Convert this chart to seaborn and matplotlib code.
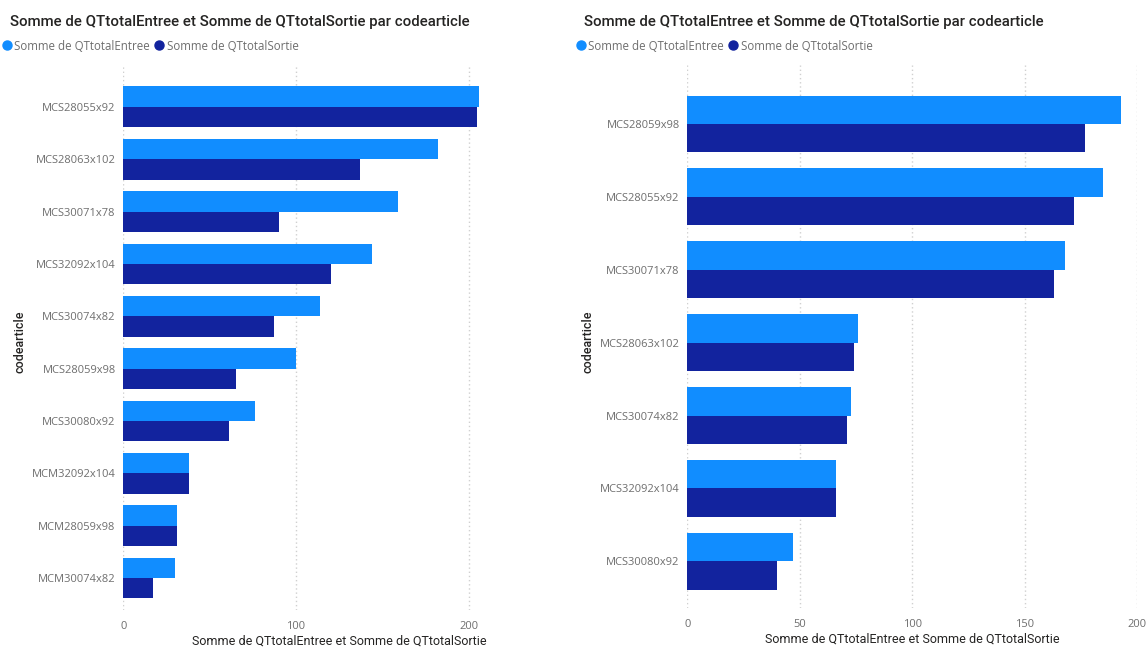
import pandas as pd
import seaborn as sns
import matplotlib.pyplot as plt
from matplotlib.lines import Line2D

# left visual
codes_left = ["MCS28055x92", "MCS28063x102", "MCS30071x78", "MCS32092x104",
              "MCS30074x82", "MCS28059x98", "MCS30080x92", "MCM32092x104",
              "MCM28059x98", "MCM30074x82"]
entree_left = [206, 182, 159, 144, 114, 100, 76, 38, 31, 30]
sortie_left = [205, 137, 90, 120, 87, 65, 61, 38, 31, 17]

# right visual
codes_right = ["MCS28059x98", "MCS28055x92", "MCS30071x78", "MCS28063x102",
               "MCS30074x82", "MCS32092x104", "MCS30080x92"]
entree_right = [193, 185, 168, 76, 73, 66, 47]
sortie_right = [177, 172, 163, 74, 71, 66, 40]

left_ticks = [0, 100, 200]
right_ticks = [0, 50, 100, 150, 200]

series = ["Somme de QTtotalEntree", "Somme de QTtotalSortie"]
colors = ["#118DFF", "#12239E"]
title = "Somme de QTtotalEntree et Somme de QTtotalSortie par codearticle"
xlab = "Somme de QTtotalEntree et Somme de QTtotalSortie"

sns.set_style("white")
plt.rcParams['font.family'] = ['Open Sans', 'DejaVu Sans']

GRAY = "#6E6E6E"
DARK = "#252423"


def make_df(codes, entree, sortie):
    df = pd.DataFrame({"codearticle": codes, series[0]: entree, series[1]: sortie})
    return df.melt(id_vars="codearticle", var_name="serie", value_name="qte")


def draw(ax, codes, entree, sortie, ticks, xmax, pad_top, pad_bot):
    df = make_df(codes, entree, sortie)
    sns.barplot(data=df, y="codearticle", x="qte", hue="serie", order=codes,
                hue_order=series, palette=colors, orient="h", width=0.78,
                saturation=1, linewidth=0, ax=ax, legend=False)
    ax.set_xlim(0, xmax)
    ax.set_ylim(len(codes) - 0.5 + pad_bot, -0.5 - pad_top)
    ax.set_xticks(ticks)
    ax.set_xticklabels([str(t) for t in ticks])
    ax.xaxis.grid(True, linestyle=(0, (1, 2)), color="#D0D0D0", linewidth=1)
    ax.yaxis.grid(False)
    ax.set_axisbelow(True)
    for s in ax.spines.values():
        s.set_visible(False)
    ax.tick_params(axis="both", length=0, labelsize=8, labelcolor=GRAY)
    ax.tick_params(axis="x", pad=8)
    ax.tick_params(axis="y", pad=5.5)
    ax.set_xlabel(xlab, fontsize=9, color=DARK, family="Roboto", labelpad=2)
    ax.set_ylabel("")


fig = plt.figure(figsize=(11.48, 6.5), dpi=100)
ax1 = fig.add_axes([123.3 / 1148, 1 - 610 / 650, (555 - 123.3) / 1148, 545 / 650])
ax2 = fig.add_axes([687.3 / 1148, 1 - 608 / 650, (1137 - 687.3) / 1148, 543 / 650])

draw(ax1, codes_left, entree_left, sortie_left, left_ticks, 250, 0.3, 0.11)
draw(ax2, codes_right, entree_right, sortie_right, right_ticks, 200, 0.31, 0.14)

handles = [Line2D([], [], marker="o", linestyle="", color=c, markersize=6.5) for c in colors]
for x0, ylab_x in [(0, 20), (574, 588)]:
    fig.text((x0 + 10) / 1148, 1 - 22 / 650, title, fontsize=10.8, color=DARK,
             family="Roboto", fontweight="medium", va="center", ha="left")
    fig.legend(handles, series, loc="center left",
               bbox_to_anchor=((x0 + 1) / 1148, 1 - 46 / 650), ncol=2, frameon=False,
               fontsize=8.3, labelcolor=GRAY, handletextpad=0.15, columnspacing=0.3,
               handlelength=1.0, borderaxespad=0, borderpad=0)
    fig.text(ylab_x / 1148, 1 - 342 / 650, "codearticle", rotation=90, fontsize=9,
             color=DARK, family="Roboto", fontweight="medium", va="center", ha="center")

fig.savefig("out.png", dpi=100)
